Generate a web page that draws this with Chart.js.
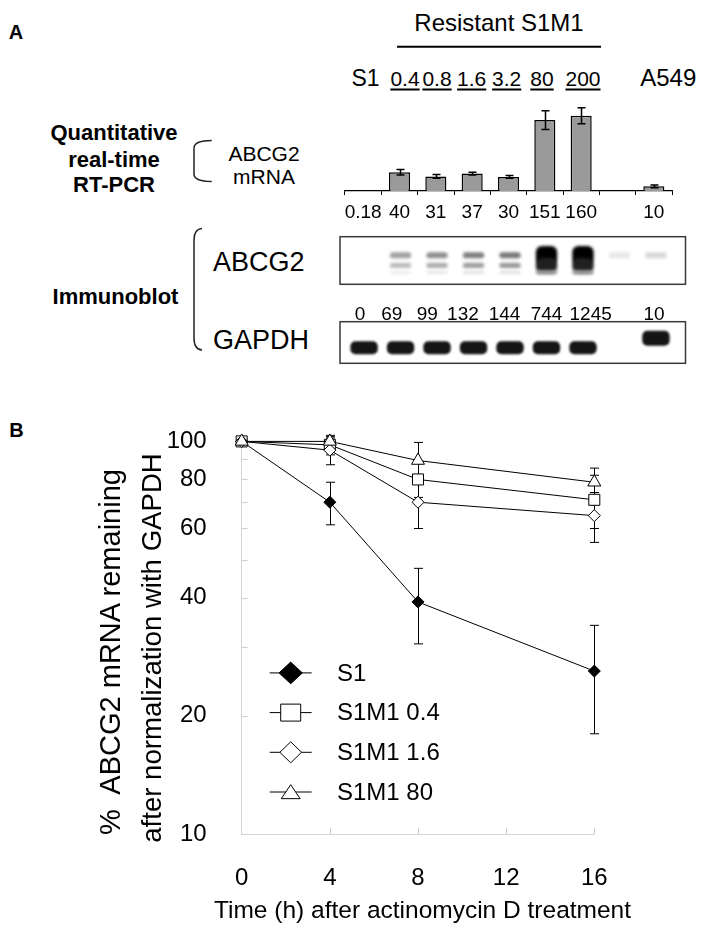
<!DOCTYPE html>
<html>
<head>
<meta charset="utf-8">
<script src="https://cdn.jsdelivr.net/npm/chart.js@4/dist/chart.umd.min.js"></script>
<style>
html,body{margin:0;padding:0;background:#fff;}
body{width:706px;height:937px;position:relative;overflow:hidden;font-family:"Liberation Sans",Arial,Helvetica,sans-serif;color:#000;}
.t{position:absolute;line-height:1;white-space:pre;transform:translate(-50%,-50%);}
.l{position:absolute;line-height:1;white-space:pre;transform:translate(0,-50%);}
.r{position:absolute;line-height:1;white-space:pre;transform:translate(-50%,-50%) rotate(-90deg);}
.u{text-decoration:underline;text-decoration-thickness:1.5px;text-underline-offset:3px;}
canvas{position:absolute;}
svg{position:absolute;left:0;top:0;pointer-events:none;}
</style>
</head>
<body>
<!-- Panel A text -->
<div class="t" style="left:16px;top:32px;font-size:20px;font-weight:bold">A</div>
<div class="t" style="left:499px;top:23px;font-size:24px">Resistant S1M1</div>
<div class="t" style="left:365.5px;top:78px;font-size:23px">S1</div>
<div class="t u" style="left:405px;top:78px;font-size:21px">0.4</div>
<div class="t u" style="left:437px;top:78px;font-size:21px">0.8</div>
<div class="t u" style="left:471.7px;top:78px;font-size:21px">1.6</div>
<div class="t u" style="left:506.7px;top:78px;font-size:21px">3.2</div>
<div class="t u" style="left:542px;top:78px;font-size:21px">80</div>
<div class="t u" style="left:583px;top:78px;font-size:21px">200</div>
<div class="t" style="left:668.3px;top:78px;font-size:24px">A549</div>

<div class="t" style="left:114px;top:133px;font-size:22px;font-weight:bold">Quantitative</div>
<div class="t" style="left:114px;top:160px;font-size:22px;font-weight:bold">real-time</div>
<div class="t" style="left:114px;top:185px;font-size:22px;font-weight:bold">RT-PCR</div>
<div class="t" style="left:264px;top:153px;font-size:21px">ABCG2</div>
<div class="t" style="left:264px;top:176px;font-size:21px">mRNA</div>
<div class="t" style="left:115.5px;top:297px;font-size:22px;font-weight:bold">Immunoblot</div>
<div class="l" style="left:213px;top:262px;font-size:27px">ABCG2</div>
<div class="l" style="left:213px;top:340px;font-size:27px">GAPDH</div>

<div class="t" style="left:16.5px;top:430px;font-size:20px;font-weight:bold">B</div>

<canvas id="bar" width="370" height="140" style="left:330px;top:90px"></canvas>
<canvas id="blotA" width="376" height="90" style="left:330px;top:232px"></canvas>
<canvas id="blotG" width="376" height="52" style="left:330px;top:316px"></canvas>
<canvas id="decay" width="706" height="537" style="left:0px;top:400px"></canvas>

<!-- Panel B axis titles -->
<div class="r" style="left:110px;top:652px;font-size:29px">%  ABCG2 mRNA remaining</div>
<div class="r" style="left:152px;top:648px;font-size:27.6px">after normalization with GAPDH</div>
<div class="t" style="left:422.5px;top:910px;font-size:24.5px">Time (h) after actinomycin D treatment</div>

<svg width="706" height="937" viewBox="0 0 706 937">
  <line x1="397" y1="46.7" x2="601" y2="46.7" stroke="#000" stroke-width="2"/>
  <path d="M211.7,140.5 Q194,140.5 194,148 L194,174 Q194,181.5 211.7,181.5" fill="none" stroke="#222" stroke-width="1.5"/>
  <path d="M202,228.5 Q194,229 194,240 L194,338 Q194,349.5 202,350" fill="none" stroke="#222" stroke-width="1.5"/>
</svg>

<script>
// ---------------- DATA ----------------
// Panel A: quantitative real-time RT-PCR (ABCG2 mRNA)
const barCategories   = ['S1', '0.4', '0.8', '1.6', '3.2', '80', '200', '', 'A549'];
const mrnaValues      = [0.18, 40, 31, 37, 30, 151, 160, null, 10];
const mrnaErrors      = [0, 6, 4, 3, 3, 20, 17, null, 3];
const mrnaTickLabels  = ['0.18', '40', '31', '37', '30', '151', '160', '', '10'];

// Panel A: immunoblot lanes
const blotLanes        = [0, 1, 2, 3, 4, 5, 6, 7, 8];
const abcg2Intensity   = [0, 69, 99, 132, 144, 744, 1245, 3, 10];
const abcg2TickLabels  = ['0', '69', '99', '132', '144', '744', '1245', '', '10'];
const gapdhPresent     = [1, 1, 1, 1, 1, 1, 1, 0, 1];

// Panel B: mRNA decay after actinomycin D
const timeHours      = [0, 4, 8, 16];
const timeTicks      = [0, 4, 8, 12, 16];
const s1Values       = [100, 70, 39, 26];
const s1Errors       = [0, 8.7, 8.5, 8];
const s1m1_04Values  = [100, 98, 80, 71];
const s1m1_04Errors  = [0, 5.6, 8, 11];
const s1m1_16Values  = [100, 95, 70, 64.7];
const s1m1_16Errors  = [0, 7.8, 10, 9.4];
const s1m1_80Values  = [100, 100, 89.4, 78.7];
const s1m1_80Errors  = [0, 2, 10, 6.8];
const yTickValues    = [10, 20, 30, 40, 50, 60, 70, 80, 90, 100];
const yLabeledTicks  = [10, 20, 40, 60, 80, 100];

// ---------------- STYLE ----------------
const FONT = '"Liberation Sans", Arial, Helvetica, sans-serif';
Chart.defaults.font.family = FONT;
Chart.defaults.color = '#000';
// horizontal nudge (in lane units) of the blot quantification labels, as typeset in the figure
const blotLabelNudge = [-0.11, -0.24, -0.27, -0.29, -0.15, 0, 0.21, 0, -0.05];

function valueOf(d) { return (d && typeof d === 'object') ? d.y : d; }

const errorBars = {
  id: 'errorBars',
  beforeDatasetsDraw(chart, args, o) { if (o.layer === 'before') drawErr(chart, o); },
  afterDatasetsDraw(chart, args, o) { if (o.layer === 'after') drawErr(chart, o); }
};
function drawErr(chart, o) {
  const ctx = chart.ctx, y = chart.scales.y;
  ctx.save();
  ctx.strokeStyle = '#000';
  ctx.lineWidth = o.lineWidth;
  chart.data.datasets.forEach((ds, di) => {
    if (!ds.errors) return;
    const meta = chart.getDatasetMeta(di);
    meta.data.forEach((el, i) => {
      const e = ds.errors[i], v = valueOf(ds.data[i]);
      if (!e || v == null) return;
      const x = Math.round(el.x) + (o.lineWidth % 2 ? 0.5 : 0);
      const yt = y.getPixelForValue(v + e), yb = y.getPixelForValue(v - e);
      const hw = o.capWidth / 2;
      ctx.beginPath();
      ctx.moveTo(x, yt); ctx.lineTo(x, yb);
      ctx.moveTo(x - hw, yt); ctx.lineTo(x + hw, yt);
      ctx.moveTo(x - hw, yb); ctx.lineTo(x + hw, yb);
      ctx.stroke();
    });
  });
  ctx.restore();
}

const boxBorder = {
  id: 'boxBorder',
  afterDraw(chart) {
    const {ctx, chartArea: a} = chart;
    ctx.save();
    ctx.strokeStyle = '#3a3a3a';
    ctx.lineWidth = 1.5;
    ctx.strokeRect(a.left, a.top, a.right - a.left, a.bottom - a.top);
    ctx.restore();
  }
};
const blurBands = {
  id: 'blurBands',
  beforeDatasetsDraw(chart, args, o) {
    const {ctx, chartArea: a} = chart;
    ctx.save();
    ctx.beginPath();
    ctx.rect(a.left, a.top, a.right - a.left, a.bottom - a.top);
    ctx.clip();
    ctx.filter = 'blur(' + o.blur + 'px)';
  },
  afterDatasetsDraw(chart) { chart.ctx.restore(); }
};

// ---------------- BAR CHART (RT-PCR) ----------------
new Chart(document.getElementById('bar'), {
  type: 'bar',
  data: {
    labels: mrnaTickLabels,
    datasets: [{
      data: mrnaValues,
      errors: mrnaErrors,
      backgroundColor: '#9a9a9a',
      borderColor: '#000',
      borderWidth: 1.5,
      barPercentage: 0.58,
      categoryPercentage: 1
    }]
  },
  options: {
    responsive: false, animation: false, devicePixelRatio: 1,
    layout: {padding: {left: 15, right: 28, top: 7, bottom: 0}},
    plugins: {legend: {display: false}, tooltip: {enabled: false},
      errorBars: {layer: 'after', capWidth: 8, lineWidth: 1.5}},
    scales: {
      x: {
        grid: {offset: true, drawOnChartArea: false, drawTicks: true, tickLength: 4, color: '#000', lineWidth: 1},
        border: {display: true, color: '#000', width: 1.2},
        ticks: {font: {size: 19}, color: '#000', padding: 6.6, maxRotation: 0, autoSkip: false},
        afterFit(s) { s.height = 39; }
      },
      y: {display: false, min: 0, max: 200}
    }
  },
  plugins: [errorBars]
});

// ---------------- IMMUNOBLOTS ----------------
const bandLevel = v => Math.min(1, Math.sqrt(v / 600));
const grayOf = d => { const g = Math.round(250 * (1 - Math.max(0, Math.min(1, d)))); return `rgb(${g},${g},${g})`; };
function bandData(center, baseHalf, growHalf, minLevel) {
  return blotLanes.map(i => {
    const v = abcg2Intensity[i];
    if (!v || bandLevel(v) < minLevel) return {x: i, y: null};
    const L = bandLevel(v);
    const h = baseHalf + growHalf * Math.max(0, (L - 0.5) / 0.5);
    return {x: i, y: [center - h, center + h]};
  });
}
function bandDataset(center, baseHalf, growHalf, factor, shift, minLevel) {
  return {
    data: bandData(center, baseHalf, growHalf, minLevel),
    backgroundColor: c => grayOf((bandLevel(abcg2Intensity[c.dataIndex] || 0) - shift) * factor),
    borderWidth: 0, borderRadius: 6, borderSkipped: false,
    grouped: false, barPercentage: 0.74, categoryPercentage: 1
  };
}
const laneScale = (extra) => Object.assign({
  type: 'linear', min: -0.66, max: 8.81, offset: false,
  grid: {display: false}, border: {display: false},
  afterBuildTicks(s) { s.ticks = blotLanes.map((v, i) => ({value: v + blotLabelNudge[i]})); }
}, extra);

new Chart(document.getElementById('blotA'), {
  type: 'bar',
  data: {datasets: [
    bandDataset(0.25, 0.025, 0.02, 0.45, 0.15, 0.3),
    bandDataset(0.40, 0.055, 0.10, 0.95, 0.08, 0.2),
    bandDataset(0.61, 0.065, 0.13, 1.05, 0, 0)
  ]},
  options: {
    responsive: false, animation: false, devicePixelRatio: 1,
    layout: {padding: {left: 10, right: 20.5, top: 4.7, bottom: 0}},
    plugins: {legend: {display: false}, tooltip: {enabled: false}, blurBands: {blur: 1.4}},
    scales: {
      x: laneScale({
        ticks: {font: {size: 19}, color: '#000', padding: 11, maxRotation: 0, autoSkip: false,
          callback: (v, i) => abcg2TickLabels[i] ?? ''},
        afterFit(s) { s.height = 37.7; }
      }),
      y: {display: false, min: 0, max: 1}
    }
  },
  plugins: [blurBands, boxBorder]
});

const gapdhRange = i => (i === blotLanes.length - 1 ? [0.42, 0.78] : [0.22, 0.53]);
new Chart(document.getElementById('blotG'), {
  type: 'bar',
  data: {datasets: [{
    data: blotLanes.map(i => ({x: i, y: gapdhPresent[i] ? gapdhRange(i) : null})),
    backgroundColor: '#151515', borderWidth: 0, borderRadius: 5, borderSkipped: false,
    grouped: false, barPercentage: 0.95, categoryPercentage: 1
  }]},
  options: {
    responsive: false, animation: false, devicePixelRatio: 1,
    layout: {padding: {left: 10, right: 20.5, top: 5.7, bottom: 4.7}},
    plugins: {legend: {display: false}, tooltip: {enabled: false}, blurBands: {blur: 1}},
    scales: {
      x: laneScale({display: false}),
      y: {display: false, min: 0, max: 1}
    }
  },
  plugins: [blurBands, boxBorder]
});

// ---------------- PANEL B: DECAY ----------------
const innerTicks = {
  id: 'innerTicks',
  beforeDatasetsDraw(chart) {
    const {ctx, chartArea: a, scales: {x, y}} = chart;
    ctx.save();
    ctx.strokeStyle = '#cfcfcf';
    ctx.lineWidth = 1;
    ctx.beginPath();
    y.ticks.forEach(t => {
      const p = Math.round(y.getPixelForValue(t.value)) + 0.5;
      ctx.moveTo(a.left, p); ctx.lineTo(a.left + 6, p);
    });
    x.ticks.forEach(t => {
      if (t.value === timeTicks[0]) return;
      const p = Math.round(x.getPixelForValue(t.value)) + 0.5;
      ctx.moveTo(p, a.bottom); ctx.lineTo(p, a.bottom - 6);
    });
    ctx.stroke();
    ctx.restore();
  }
};
const insideLegend = {
  id: 'insideLegend',
  afterDraw(chart, args, o) {
    const {ctx, chartArea: a} = chart;
    const drawPt = Chart.helpers.drawPointLegend || ((c, opt, x, y) => Chart.helpers.drawPoint(c, opt, x, y));
    ctx.save();
    chart.data.datasets.forEach((ds, i) => {
      const cy = a.top + o.firstOffset + i * o.spacing;
      const cx = a.left + o.markerOffset;
      ctx.strokeStyle = '#000';
      ctx.lineWidth = 1;
      ctx.beginPath();
      ctx.moveTo(cx - o.lineHalf, cy); ctx.lineTo(cx + o.lineHalf, cy);
      ctx.stroke();
      ctx.fillStyle = ds.pointBackgroundColor;
      ctx.strokeStyle = '#000';
      ctx.lineWidth = 1;
      ctx.beginPath();
      drawPt(ctx, {pointStyle: ds.pointStyle, radius: ds.legendMarker.radius, rotation: 0, borderWidth: 1},
        cx, cy + (ds.legendMarker.dy || 0), ds.legendMarker.width);
      ctx.fillStyle = '#000';
      ctx.font = '24px ' + FONT;
      ctx.textBaseline = 'middle';
      ctx.textAlign = 'left';
      ctx.fillText(ds.label, cx + o.textOffset, cy + 1);
    });
    ctx.restore();
  }
};

function series(label, values, errors, style, radius, fill, legendMarker, order) {
  return {
    label, errors, order,
    data: timeHours.map((t, i) => ({x: t, y: values[i]})),
    borderColor: '#000', borderWidth: 1,
    pointStyle: style, pointRadius: radius,
    pointBackgroundColor: fill, pointBorderColor: '#000', pointBorderWidth: 1,
    fill: false, tension: 0, clip: false,
    legendMarker
  };
}

new Chart(document.getElementById('decay'), {
  type: 'line',
  data: {datasets: [
    series('S1', s1Values, s1Errors, 'rectRot', 6, '#000', {radius: 10.8, width: 23.3}, 3),
    series('S1M1 0.4', s1m1_04Values, s1m1_04Errors, 'rect', 7.8, '#fff', {radius: 12, width: 20}, 2),
    series('S1M1 1.6', s1m1_16Values, s1m1_16Errors, 'rectRot', 6, '#fff', {radius: 10.5, width: 21.7}, 1),
    series('S1M1 80', s1m1_80Values, s1m1_80Errors, 'triangle', 7.5, '#fff', {radius: 9.3, width: 21.7, dy: 2}, 0)
  ]},
  options: {
    responsive: false, animation: false, devicePixelRatio: 1,
    layout: {padding: {left: 0, right: 111.7, top: 41, bottom: 0}},
    plugins: {
      legend: {display: false}, tooltip: {enabled: false},
      errorBars: {layer: 'before', capWidth: 9, lineWidth: 1},
      insideLegend: {firstOffset: 231.5, spacing: 39.7, markerOffset: 49, lineHalf: 21, textOffset: 46.3}
    },
    scales: {
      x: {
        type: 'linear', min: 0, max: 16,
        afterBuildTicks(s) { s.ticks = timeTicks.map(v => ({value: v})); },
        grid: {display: false},
        border: {display: true, color: '#d6d6d6', width: 1},
        ticks: {font: {size: 24}, color: '#000', padding: 22, maxRotation: 0},
        afterFit(s) { s.height = 103; }
      },
      y: {
        type: 'logarithmic', min: 10, max: 100,
        afterBuildTicks(s) { s.ticks = yTickValues.map(v => ({value: v})); },
        grid: {display: false},
        border: {display: true, color: '#d6d6d6', width: 1},
        ticks: {font: {size: 24}, color: '#000', padding: 27,
          callback: v => (yLabeledTicks.includes(v) ? String(v) : '')},
        afterFit(s) { s.width = 241.7; }
      }
    }
  },
  plugins: [errorBars, innerTicks, insideLegend]
});
</script>
</body>
</html>
